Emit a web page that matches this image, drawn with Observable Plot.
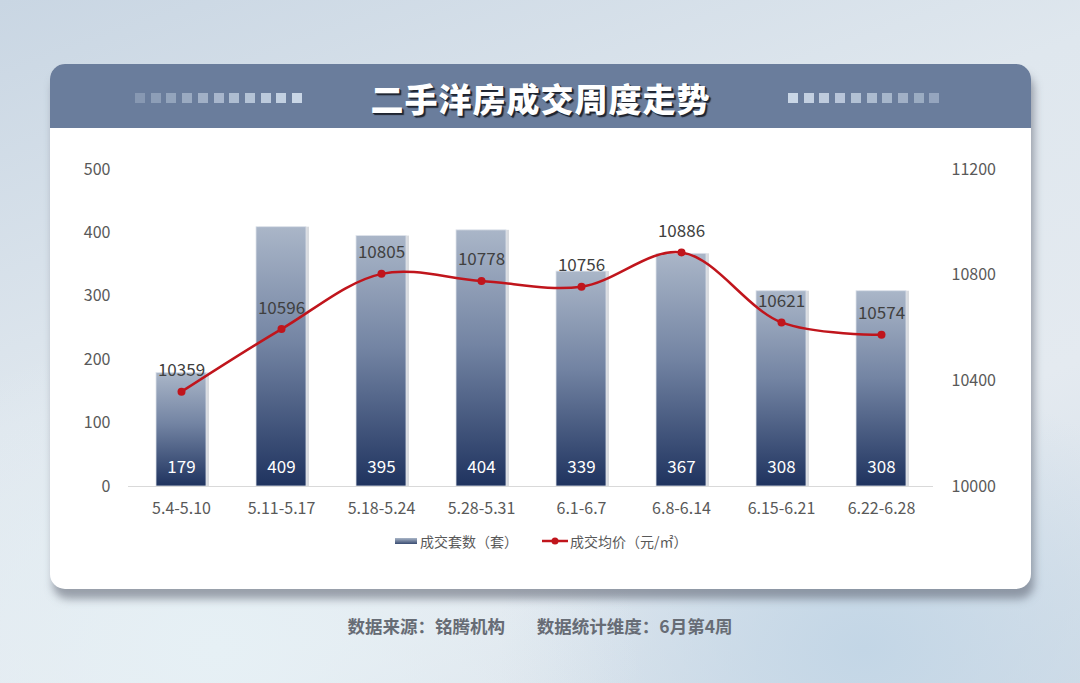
<!DOCTYPE html>
<html>
<head>
<meta charset="utf-8">
<script src="https://cdn.jsdelivr.net/npm/d3@7"></script>
<script src="https://cdn.jsdelivr.net/npm/@observablehq/plot@0.6"></script>
<style>
  html, body { margin:0; padding:0; }
  body { width:1080px; height:683px; overflow:hidden; position:relative;
    font-family:"Noto Sans CJK SC","Noto Sans",sans-serif;
    background: radial-gradient(ellipse at 20% 95%, #e6f0f5 0%, rgba(230,240,245,0) 35%),
                radial-gradient(ellipse at 80% 95%, #c3d6e6 0%, rgba(195,214,230,0) 30%),
                linear-gradient(160deg, #c9d6e3 0%, #dfe7ee 40%, #e4eaf0 70%, #d3dee8 100%); }
  #card { position:absolute; left:50px; top:64px; width:981px; height:525px; background:#fff;
    border-radius:15px; overflow:hidden; box-shadow: 3px 10px 8px rgba(90,95,110,0.55); }
  #header { position:absolute; left:0; top:0; width:100%; height:64px; background:#6a7d9c; }
  #title { position:absolute; left:0; width:100%; top:10px; text-align:center; color:#fff;
    font-size:33px; font-weight:900; letter-spacing:1px; line-height:48px;
    text-shadow: 2px 2px 1px #1e2430, 1px 1px 0 #1e2430; }
  .sq { position:absolute; top:29px; width:10px; height:10px; background:#c9d6e6; }
  #chart { position:absolute; left:0; top:64px; }
  #legend { position:absolute; top:467px; left:0; width:100%; font-size:14px; color:#595959; }
  .lg { position:absolute; top:0; display:flex; align-items:center; white-space:nowrap; }
  #footer { position:absolute; top:613px; left:0; width:1080px; text-align:center; font-size:17.5px;
    font-weight:bold; color:#676c75; }
</style>
</head>
<body>
<div id="card">
  <div id="header"><div id="title">二手洋房成交周度走势</div></div>
  <div id="chart"></div>
  <div id="legend">
    <div class="lg" style="left:345px"><svg width="22" height="8" style="margin-right:3px"><defs><linearGradient id="lgb" x1="0" y1="0" x2="0" y2="1"><stop offset="0" stop-color="#a9b5c7"/><stop offset="1" stop-color="#3a4c72"/></linearGradient></defs><rect x="0" y="1" width="22" height="6" fill="url(#lgb)"/></svg><span>成交套数（套）</span></div>
    <div class="lg" style="left:492px"><svg width="26" height="10" style="margin-right:2px"><line x1="0" y1="5" x2="26" y2="5" stroke="#c0151c" stroke-width="2.5"/><circle cx="13" cy="5" r="3.5" fill="#c0151c"/></svg><span>成交均价（元/㎡）</span></div>
  </div>
</div>
<div id="footer">数据来源：铭腾机构&nbsp;&nbsp;&nbsp;&nbsp;&nbsp;&nbsp;&nbsp;&nbsp;数据统计维度：6月第4周</div>
<script>
const weeks = ["5.4-5.10","5.11-5.17","5.18-5.24","5.28-5.31","6.1-6.7","6.8-6.14","6.15-6.21","6.22-6.28"];
const counts = [179, 409, 395, 404, 339, 367, 308, 308];
const prices = [10359, 10596, 10805, 10778, 10756, 10886, 10621, 10574];
const leftTicks = [0, 100, 200, 300, 400, 500];
const rightTicks = [10000, 10400, 10800, 11200];
const priceMin = 10000, priceMax = 11200, countMax = 500;

const toCount = p => (p - priceMin) / (priceMax - priceMin) * countMax;
const toPrice = c => priceMin + c / countMax * (priceMax - priceMin);

const data = weeks.map((w, i) => ({week: w, count: counts[i], price: prices[i]}));

// decorative squares
const header = document.getElementById("header");
for (let i = 0; i < 11; i++) {
  const l = document.createElement("div"); l.className = "sq";
  l.style.left = (85 + i * 15.7) + "px"; l.style.opacity = (0.3 + i * 0.07).toFixed(2);
  header.appendChild(l);
}
for (let i = 0; i < 10; i++) {
  const r = document.createElement("div"); r.className = "sq";
  r.style.left = (738 + i * 15.7) + "px"; r.style.opacity = (1 - i * 0.06).toFixed(2);
  header.appendChild(r);
}

const defs = () => {
  const d = d3.create("svg:defs");
  const g = d.append("linearGradient").attr("id", "barGrad").attr("x1", 0).attr("y1", 0).attr("x2", 0).attr("y2", 1);
  g.append("stop").attr("offset", "0").attr("stop-color", "#aab6c8");
  g.append("stop").attr("offset", "0.45").attr("stop-color", "#7384a3");
  g.append("stop").attr("offset", "1").attr("stop-color", "#1f335f");
  return d.node();
};

const chart = Plot.plot({
  width: 981,
  height: 400,
  marginLeft: 78,
  marginRight: 98,
  marginTop: 41,
  marginBottom: 42,
  style: {fontFamily: '"Noto Sans CJK SC","Noto Sans",sans-serif', background: "transparent", overflow: "visible"},
  x: {domain: weeks, paddingInner: 0.5, paddingOuter: 0.25, label: null},
  y: {domain: [0, countMax], label: null},
  marks: [
    defs,
    Plot.barY(data, {x: "week", y: "count", fill: "#c9ccd2", fillOpacity: 0.7, dx: 3, dy: 0}),
    Plot.barY(data, {x: "week", y: "count", fill: "url(#barGrad)", stroke: "#dfe4ec", strokeWidth: 0.8}),
    Plot.ruleY([0], {stroke: "#d9d9d9", strokeWidth: 1.2}),
    Plot.axisY({ticks: leftTicks, tickSize: 0, tickPadding: 18, fontSize: 16, color: "#595959", label: null}),
    Plot.axisY({anchor: "right", ticks: rightTicks.map(toCount), tickFormat: c => String(Math.round(toPrice(c))),
      tickSize: 0, tickPadding: 18, fontSize: 16, color: "#595959", label: null}),
    Plot.axisX({tickSize: 0, tickPadding: 16, fontSize: 16, color: "#595959", label: null}),
    Plot.text(data, {x: "week", y: 0, text: d => String(d.count), dy: -19, fill: "#ffffff", fontSize: 17}),
    Plot.line(data, {x: "week", y: d => toCount(d.price), stroke: "#c0151c", strokeWidth: 2.5, curve: "catmull-rom"}),
    Plot.dot(data, {x: "week", y: d => toCount(d.price), r: 4, fill: "#c0151c"}),
    Plot.text(data, {x: "week", y: d => toCount(d.price), text: d => String(d.price), dy: -21, fill: "#404040", fontSize: 17})
  ]
});
document.getElementById("chart").appendChild(chart);
</script>
</body>
</html>
